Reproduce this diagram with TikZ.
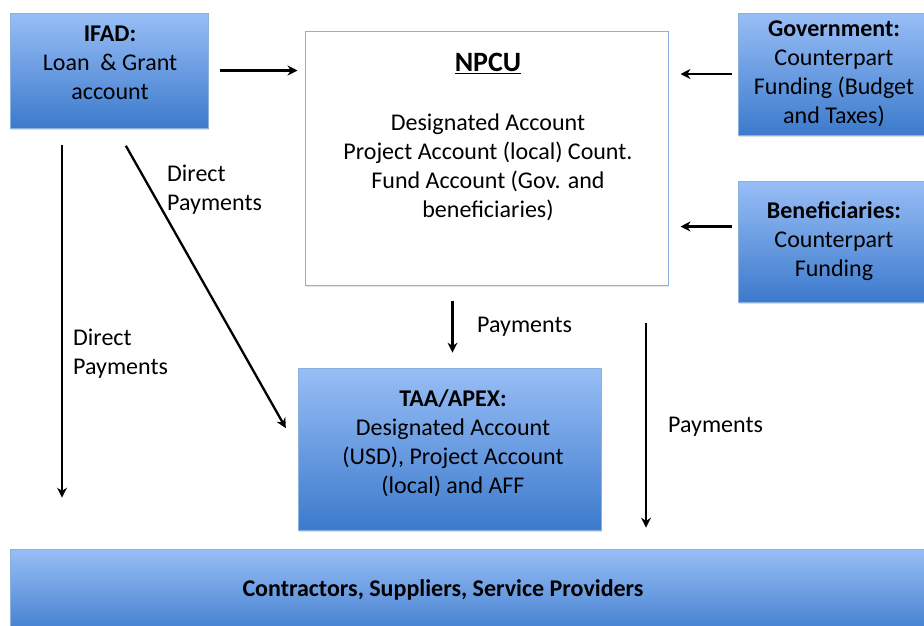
\documentclass[tikz,border=0pt]{standalone}
\usepackage{fontspec}
\setmainfont{Carlito}
\usepackage{xcolor}
\usetikzlibrary{arrows.meta,positioning,shadows}
\definecolor{azulClaro}{RGB}{152,190,246}
\definecolor{azulEscuro}{RGB}{60,122,204}
\definecolor{bordaAzul}{RGB}{140,176,222}
\tikzset{
    caixa/.style={
        rectangle,
        draw=bordaAzul,
        line width=0.7pt,
        top color=azulClaro,
        bottom color=azulEscuro,
        align=center,
        inner sep=0pt,
        drop shadow={opacity=0.25, shadow xshift=1pt, shadow yshift=-2pt}
    },
    quadro/.style={
        rectangle,
        draw=bordaAzul,
        line width=1pt,
        fill=white,
        inner sep=0pt,
        drop shadow={opacity=0.2, shadow xshift=1pt, shadow yshift=-2pt}
    },
    texto/.style={align=center, inner sep=0pt},
    rotulo/.style={align=left, inner sep=0pt},
    fluxo/.style={-{Stealth[length=10pt, width=10pt]}, line width=2.3pt}
}

\begin{document}
\begin{tikzpicture}[x=1pt, y=-1pt, font=\fontsize{24}{29}\selectfont]
    \useasboundingbox (0,0) rectangle (924,625);
    \node[caixa, minimum width=198pt, minimum height=115pt] (ifad) at (109,70.5) {};
    \node[texto] (ifadtxt) at (110,62.5) {\textbf{IFAD:}\\Loan~~\& Grant\\account};
    \node[quadro, minimum width=363pt, minimum height=254pt] (npcu) at (486.5,158) {};
    \node[texto, anchor=north] (npcutxt) at (488,53)
        {{\fontsize{28}{29}\selectfont\textbf{\underline{NPCU}}}\\[30pt]
         Designated Account\\Project Account (local) Count.\\Fund Account (Gov. and\\beneficiaries)};
    \node[caixa, minimum width=192pt, minimum height=122pt] (gov) at (834,74)
        {\textbf{Government:}\\Counterpart\\Funding (Budget\\and Taxes)};
    \node[caixa, minimum width=192pt, minimum height=121pt] (benef) at (834,241.5)
        {\textbf{Beneficiaries:}\\Counterpart\\Funding};
    \node[caixa, minimum width=303pt, minimum height=162pt] (taa) at (449.5,449) {};
    \node[texto] (taatxt) at (453,443)
        {\textbf{TAA/APEX:}\\Designated Account\\(USD), Project Account\\(local) and AFF};
    \node[caixa, minimum width=920pt, minimum height=90pt] (contrat) at (470,594) {};
    \node[texto] (contrattxt) at (443,590) {\textbf{Contractors, Suppliers, Service Providers}};
    \coordinate (pagto) at (646,323);
    \node[rotulo, anchor=north west] (dp1) at (73,329) {Direct\\Payments};
    \node[rotulo, anchor=north west] (dp2) at (167,165) {Direct\\Payments};
    \node[rotulo, anchor=west] (pg1) at (477,327) {Payments};
    \node[rotulo, anchor=west] (pg2) at (668,427) {Payments};
    \draw[fluxo, shorten <=12pt, shorten >=7pt] (ifad.east) -- (npcu.west |- ifad.east);
    \draw[fluxo, shorten <=6pt, shorten >=12pt] (gov.west) -- (npcu.east |- gov.west);
    \draw[fluxo, shorten <=6pt, shorten >=12pt] ([yshift=15pt]benef.west) -- ([yshift=15pt]npcu.east |- benef.west);
    \draw[fluxo, shorten <=17pt, shorten >=51pt] ([xshift=-47pt]ifad.south) -- ([xshift=-47pt]ifad.south |- contrat.north);
    \draw[fluxo, shorten <=20pt, shorten >=24pt] ([xshift=7pt]ifad.south) -- (taa.west);
    \draw[fluxo, shorten <=15pt, shorten >=15pt] ([xshift=-34pt]npcu.south) -- ([xshift=-34pt]npcu.south |- taa.north);
    \draw[fluxo, shorten >=21pt] (pagto) -- (pagto |- contrat.north);
\end{tikzpicture}
\end{document}
